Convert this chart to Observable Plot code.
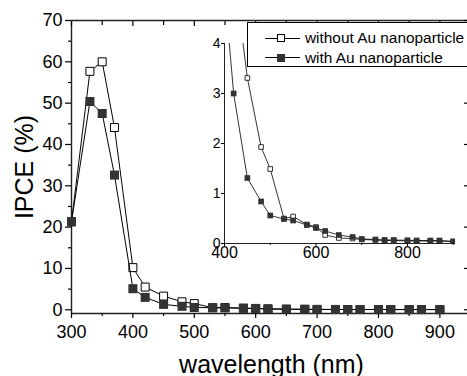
<!DOCTYPE html>
<html>
<head>
<meta charset="utf-8">
<script src="https://cdn.jsdelivr.net/npm/d3@7"></script>
<script src="https://cdn.jsdelivr.net/npm/@observablehq/plot@0.6"></script>
<style>
  html, body { margin: 0; padding: 0; background: #fff; overflow: hidden; }
  #wrap { position: relative; width: 467px; height: 376px; overflow: hidden; font-family: "Liberation Sans", Arial, sans-serif; }
  #wrap svg { position: absolute; left: 0; top: 0; }
  #legend { position: absolute; left: 247px; top: 22px; width: 240px; height: 43px; border: 1px solid #000; background: #fff; }
  .lrow { position: absolute; left: 0; height: 20px; width: 240px; }
  .lline { position: absolute; left: 17px; width: 35px; top: 9.5px; height: 0; border-top: 1px solid #000; }
  .lsq { position: absolute; left: 29px; top: 6px; width: 6px; height: 6px; border: 1px solid #000; background: #fff; }
  .lsq.filled { background: #333; border-color: #333; }
  .ltxt { position: absolute; left: 57px; top: 0; font-size: 15.4px; line-height: 20px; color: #000; white-space: nowrap; }
</style>
</head>
<body>
<div id="wrap"></div>
<script>
// ---- data ----
const wavelength = [300, 330, 350, 370, 400, 420, 450, 480, 500, 530, 550, 580, 600, 620, 650, 680, 700, 730, 750, 770, 800, 820, 850, 870, 900];
const withoutAu  = [21.3, 57.7, 60.0, 44.1, 10.2, 5.5, 3.31, 1.93, 1.49, 0.50, 0.54, 0.38, 0.33, 0.17, 0.11, 0.10, 0.08, 0.07, 0.06, 0.06, 0.05, 0.05, 0.05, 0.05, 0.04];
const withAu     = [21.3, 50.4, 47.5, 32.6, 5.1, 3.0, 1.31, 0.84, 0.56, 0.49, 0.46, 0.37, 0.31, 0.25, 0.17, 0.13, 0.09, 0.08, 0.07, 0.07, 0.065, 0.06, 0.06, 0.06, 0.04];
const seriesNames = ["without Au nanoparticle", "with Au nanoparticle"];

const xTicksMain  = [300, 400, 500, 600, 700, 800, 900];
const xMinorMain  = [350, 450, 550, 650, 750, 850];
const yTicksMain  = [0, 10, 20, 30, 40, 50, 60, 70];
const yMinorMain  = [5, 15, 25, 35, 45, 55, 65];
const xTicksInset = [400, 600, 800];
const xMinorInset = [500, 700, 900];
const yTicksInset = [0, 1, 2, 3, 4];

const xDomainMain = [300, 945];
const yDomainMain = [-0.9, 70];
const xDomainInset = [400, 905];
const yDomainInset = [0, 4];

const xLabel = "wavelength (nm)";
const yLabel = "IPCE (%)";

const rows = wavelength.map((w, i) => ({w, a: withoutAu[i], b: withAu[i]}));
const blank = () => "";
const intFmt = d3.format("d");
const font = "'Liberation Sans', Arial, sans-serif";

// ---- main chart ----
const main = Plot.plot({
  width: 467, height: 376,
  marginLeft: 71, marginRight: 0, marginTop: 20, marginBottom: 63,
  style: {fontFamily: font, background: "white", overflow: "visible", color: "#000"},
  x: {domain: xDomainMain},
  y: {domain: yDomainMain},
  marks: [
    Plot.ruleX([xDomainMain[0]], {stroke: "#222", strokeWidth: 1.4}),
    Plot.ruleY([yDomainMain[0]], {stroke: "#222", strokeWidth: 1.4}),
    Plot.ruleY([yDomainMain[1]], {stroke: "#222", strokeWidth: 1.4}),
    Plot.axisY({ticks: yTicksMain, tickSize: 6, tickPadding: 3, fontSize: 18, label: null, strokeWidth: 1.2}),
    Plot.axisY({ticks: yMinorMain, tickSize: 3, tickFormat: blank, label: null, strokeWidth: 1.2}),
    Plot.axisY({anchor: "right", ticks: yTicksMain, tickSize: 4, dx: -4, tickFormat: blank, label: null, strokeWidth: 1.2}),
    Plot.axisX({ticks: xTicksMain, tickSize: 5, tickPadding: 7, fontSize: 18, label: null, strokeWidth: 1.2}),
    Plot.axisX({ticks: xMinorMain, tickSize: 3, tickFormat: blank, label: null, strokeWidth: 1.2}),
    Plot.axisX({anchor: "top", ticks: xTicksMain, tickSize: 5, dy: 5, tickFormat: blank, label: null, strokeWidth: 1.2}),
    Plot.axisX({anchor: "top", ticks: xMinorMain, tickSize: 4, dy: 4, tickFormat: blank, label: null, strokeWidth: 1.2}),
    Plot.line(rows, {x: "w", y: "a", stroke: "#000", strokeWidth: 1}),
    Plot.dot(rows, {x: "w", y: "a", symbol: "square", r: 4.5, fill: "white", stroke: "#000", strokeWidth: 1}),
    Plot.line(rows, {x: "w", y: "b", stroke: "#000", strokeWidth: 1}),
    Plot.dot(rows, {x: "w", y: "b", symbol: "square", r: 5.1, fill: "#333", stroke: "none"}),
    Plot.text([xLabel], {text: d => d, frameAnchor: "bottom", textAnchor: "middle", lineAnchor: "middle", dx: 2, dy: 51, fontSize: 25, fill: "#000"}),
    Plot.text([yLabel], {text: d => d, frameAnchor: "left", textAnchor: "middle", lineAnchor: "middle", rotate: -90, dx: -47, fontSize: 25, fill: "#000"})
  ]
});

// ---- inset ----
const inset = Plot.plot({
  width: 467, height: 376,
  marginLeft: 224, marginRight: 12, marginTop: 43, marginBottom: 133,
  style: {fontFamily: font, background: "transparent", overflow: "visible", color: "#000"},
  x: {domain: xDomainInset},
  y: {domain: yDomainInset},
  marks: [
    Plot.ruleX([xDomainInset[0]], {stroke: "#222", strokeWidth: 1}),
    Plot.ruleY([yDomainInset[0]], {stroke: "#222", strokeWidth: 1}),
    Plot.axisY({ticks: yTicksInset, tickSize: 3, tickPadding: 1, fontSize: 14, tickFormat: intFmt, label: null}),
    Plot.axisX({ticks: xTicksInset, tickSize: 3, tickPadding: 0, fontSize: 16, tickFormat: intFmt, label: null}),
    Plot.axisX({ticks: xMinorInset, tickSize: 2, tickFormat: blank, label: null}),
    Plot.line(rows, {x: "w", y: "a", stroke: "#000", strokeWidth: 0.8, clip: true}),
    Plot.dot(rows, {x: "w", y: "a", symbol: "square", r: 2.6, fill: "white", stroke: "#000", strokeWidth: 0.8, clip: true}),
    Plot.line(rows, {x: "w", y: "b", stroke: "#000", strokeWidth: 0.8, clip: true}),
    Plot.dot(rows, {x: "w", y: "b", symbol: "square", r: 3.2, fill: "#333", stroke: "none", clip: true})
  ]
});

const wrap = document.getElementById("wrap");
wrap.appendChild(main);
wrap.appendChild(inset);

// ---- legend ----
const legend = document.createElement("div");
legend.id = "legend";
seriesNames.forEach((name, i) => {
  const row = document.createElement("div");
  row.className = "lrow";
  row.style.top = (5 + i * 19.7) + "px";
  row.innerHTML = `<div class="lline"></div><div class="lsq${i === 1 ? " filled" : ""}"></div><div class="ltxt"></div>`;
  row.querySelector(".ltxt").textContent = name;
  legend.appendChild(row);
});
wrap.appendChild(legend);
</script>
</body>
</html>
